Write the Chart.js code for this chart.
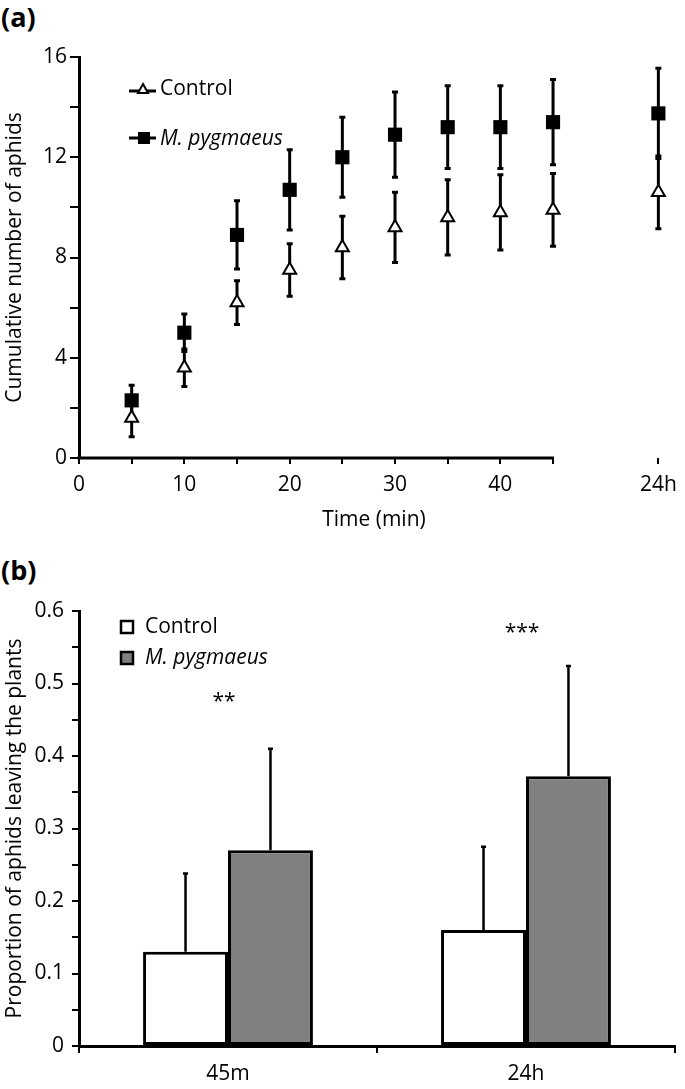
<!DOCTYPE html>
<html>
<head>
<meta charset="utf-8">
<script src="https://cdn.jsdelivr.net/npm/chart.js@4/dist/chart.umd.min.js"></script>
<style>
  body { margin: 0; background: #fff; width: 685px; height: 1089px; position: relative; overflow: hidden; }
  .panel { position: absolute; left: 0; }
  .tag { position: absolute; left: 1px; font: bold 27px "Open Sans"; line-height: 27px; color: #000; }
</style>
</head>
<body>
<div class="tag" style="top:3px">(a)</div>
<div class="tag" style="top:556px">(b)</div>
<canvas id="chartA" class="panel" style="top:0" width="685" height="545"></canvas>
<canvas id="chartB" class="panel" style="top:545px" width="685" height="544"></canvas>
<script>
// panel (a): cumulative aphids over time (55 on the x scale stands for 24h)
const timeMinutes = [5, 10, 15, 20, 25, 30, 35, 40, 45, 55];
const controlMean = [1.6, 3.6, 6.2, 7.5, 8.4, 9.2, 9.6, 9.8, 9.9, 10.6];
const controlErr = [0.75, 0.75, 0.87, 1.05, 1.25, 1.4, 1.5, 1.5, 1.45, 1.45];
const pygMean = [2.3, 5.0, 8.9, 10.7, 12.0, 12.9, 13.2, 13.2, 13.4, 13.75];
const pygErr = [0.6, 0.75, 1.36, 1.6, 1.6, 1.7, 1.65, 1.65, 1.7, 1.8];
const xTickValues = [0, 5, 10, 15, 20, 25, 30, 35, 40, 45, 55];
const xTickLabels = ["0", "", "10", "", "20", "", "30", "", "40", "", "24h"];

// panel (b): proportion leaving the plants
const periods = ["45m", "24h"];
const controlProp = [0.13, 0.16];
const controlPropErr = [0.108, 0.115];
const pygProp = [0.27, 0.372];
const pygPropErr = [0.14, 0.152];
const sigMarks = ["**", "***"];
const sigHeights = [0.48, 0.575];

Chart.defaults.font.family = "Open Sans";
Chart.defaults.font.size = 21;
Chart.defaults.color = "#000";

const FONT = '21px "Open Sans"';
const FONT_IT = 'italic 21px "Open Sans"';

// error bars for the scatter panel, drawn under the markers
const errorBarsA = {
  id: "errorBarsA",
  beforeDatasetsDraw(chart) {
    const { ctx, scales: { x, y } } = chart;
    const series = [[controlMean, controlErr], [pygMean, pygErr]];
    ctx.save();
    ctx.strokeStyle = "#000";
    ctx.lineWidth = 3;
    series.forEach(([mean, err]) => {
      timeMinutes.forEach((t, i) => {
        const px = x.getPixelForValue(t);
        const top = y.getPixelForValue(mean[i] + err[i]);
        const bot = y.getPixelForValue(mean[i] - err[i]);
        ctx.beginPath();
        ctx.moveTo(px, top); ctx.lineTo(px, bot);
        ctx.moveTo(px - 3, top); ctx.lineTo(px + 3, top);
        ctx.moveTo(px - 3, bot); ctx.lineTo(px + 3, bot);
        ctx.stroke();
      });
    });
    // x axis line only runs from 0 to 45 min
    const yb = y.getPixelForValue(0);
    ctx.beginPath();
    ctx.moveTo(x.getPixelForValue(0) - 1.5, yb);
    ctx.lineTo(x.getPixelForValue(45) + 1, yb);
    ctx.stroke();
    ctx.restore();
  },
  afterDraw(chart) {
    const ctx = chart.ctx;
    ctx.save();
    ctx.strokeStyle = "#000";
    ctx.textBaseline = "middle";
    ctx.fillStyle = "#000";
    // Control entry
    ctx.lineWidth = 3;
    ctx.beginPath(); ctx.moveTo(129, 91); ctx.lineTo(156, 91); ctx.stroke();
    ctx.beginPath();
    ctx.moveTo(143, 84); ctx.lineTo(148, 93); ctx.lineTo(138, 93); ctx.closePath();
    ctx.fillStyle = "#fff"; ctx.fill();
    ctx.lineWidth = 2; ctx.stroke();
    ctx.fillStyle = "#000";
    ctx.font = FONT;
    ctx.fillText("Control", 160, 89);
    // M. pygmaeus entry
    ctx.lineWidth = 3;
    ctx.beginPath(); ctx.moveTo(129, 138); ctx.lineTo(156, 138); ctx.stroke();
    ctx.fillRect(138, 132, 12, 12);
    ctx.font = FONT_IT;
    ctx.fillText("M. pygmaeus", 160, 139);
    ctx.restore();
  }
};

new Chart(document.getElementById("chartA"), {
  type: "scatter",
  data: {
    datasets: [
      {
        label: "Control",
        data: timeMinutes.map((t, i) => ({ x: t, y: controlMean[i] })),
        pointStyle: "triangle",
        pointRadius: 7.5,
        backgroundColor: "#fff",
        borderColor: "#000",
        borderWidth: 2
      },
      {
        label: "M. pygmaeus",
        data: timeMinutes.map((t, i) => ({ x: t, y: pygMean[i] })),
        pointStyle: "rect",
        pointRadius: 10,
        backgroundColor: "#000",
        borderColor: "#000",
        borderWidth: 0
      }
    ]
  },
  options: {
    responsive: false,
    animation: false,
    devicePixelRatio: 1,
    layout: { padding: { top: 57, right: 10, left: 0, bottom: 0 } },
    plugins: { legend: { display: false }, tooltip: { enabled: false } },
    scales: {
      x: {
        type: "linear",
        min: 0,
        max: 56,
        afterBuildTicks: (scale) => { scale.ticks = xTickValues.map(v => ({ value: v })); },
        afterFit: (scale) => { scale.height = 87; },
        ticks: { autoSkip: false, maxRotation: 0, padding: 8, callback: (v, i) => xTickLabels[i] },
        grid: { drawOnChartArea: false, tickLength: 6, lineWidth: 2, color: "#000" },
        border: { display: false },
        title: { display: true, text: "Time (min)", padding: { top: 0, bottom: 12 } }
      },
      y: {
        min: 0,
        max: 16,
        afterFit: (scale) => { scale.width = 79; },
        ticks: { stepSize: 2, padding: 3, callback: (v) => (v % 4 === 0 ? v : "") },
        grid: { drawOnChartArea: false, tickLength: 9, lineWidth: 2, color: "#000" },
        border: { display: true, width: 3, color: "#000" },
        title: { display: true, text: "Cumulative number of aphids", padding: { top: 2, bottom: 0 } }
      }
    }
  },
  plugins: [errorBarsA]
});

// upward error bars, significance stars and legend for the bar panel
const extrasB = {
  id: "extrasB",
  afterDatasetsDraw(chart) {
    const { ctx, scales: { x, y } } = chart;
    const errs = [controlPropErr, pygPropErr];
    const vals = [controlProp, pygProp];
    ctx.save();
    ctx.strokeStyle = "#000";
    ctx.lineWidth = 2.5;
    [0, 1].forEach((d) => {
      chart.getDatasetMeta(d).data.forEach((bar, i) => {
        const top = y.getPixelForValue(vals[d][i] + errs[d][i]);
        ctx.beginPath();
        ctx.moveTo(bar.x, bar.y); ctx.lineTo(bar.x, top);
        ctx.moveTo(bar.x - 2.5, top); ctx.lineTo(bar.x + 2.5, top);
        ctx.stroke();
      });
    });
    ctx.fillStyle = "#000";
    ctx.font = FONT;
    ctx.textAlign = "center";
    ctx.textBaseline = "middle";
    sigMarks.forEach((s, i) => {
      ctx.fillText(s, x.getPixelForValue(i) - 4, y.getPixelForValue(sigHeights[i]) + 4);
    });
    // legend
    ctx.textAlign = "left";
    ctx.lineWidth = 2.5;
    ctx.fillStyle = "#fff";
    ctx.fillRect(121, 76, 12, 12); ctx.strokeRect(121, 76, 12, 12);
    ctx.fillStyle = "#808080";
    ctx.fillRect(121, 107, 12, 12); ctx.strokeRect(121, 107, 12, 12);
    ctx.fillStyle = "#000";
    ctx.fillText("Control", 145, 82);
    ctx.font = FONT_IT;
    ctx.fillText("M. pygmaeus", 145, 113);
    ctx.restore();
  }
};

new Chart(document.getElementById("chartB"), {
  type: "bar",
  data: {
    labels: periods,
    datasets: [
      { label: "Control", data: controlProp, backgroundColor: "#fff", borderColor: "#000", borderWidth: 3, borderSkipped: false },
      { label: "M. pygmaeus", data: pygProp, backgroundColor: "#808080", borderColor: "#000", borderWidth: 3, borderSkipped: false }
    ]
  },
  options: {
    responsive: false,
    animation: false,
    devicePixelRatio: 1,
    categoryPercentage: 0.57,
    barPercentage: 1,
    layout: { padding: { top: 66, right: 10, left: 0, bottom: 0 } },
    plugins: { legend: { display: false }, tooltip: { enabled: false } },
    scales: {
      x: {
        afterFit: (scale) => { scale.height = 43; },
        ticks: { padding: 8 },
        grid: { drawOnChartArea: false, offset: true, tickLength: 7, lineWidth: 2, color: "#000" },
        border: { display: true, width: 3, color: "#000" }
      },
      y: {
        min: 0,
        max: 0.6,
        afterFit: (scale) => { scale.width = 79; },
        ticks: {
          stepSize: 0.05,
          padding: 8,
          callback: (v) => {
            const r = Math.round(v * 100);
            return r % 10 === 0 ? String(r / 100) : "";
          }
        },
        grid: { drawOnChartArea: false, tickLength: 7, lineWidth: 2, color: "#000" },
        border: { display: true, width: 3, color: "#000" },
        title: { display: true, text: "Proportion of aphids leaving the plants", padding: { top: 2, bottom: 0 } }
      }
    }
  },
  plugins: [extrasB]
});
</script>
</body>
</html>
